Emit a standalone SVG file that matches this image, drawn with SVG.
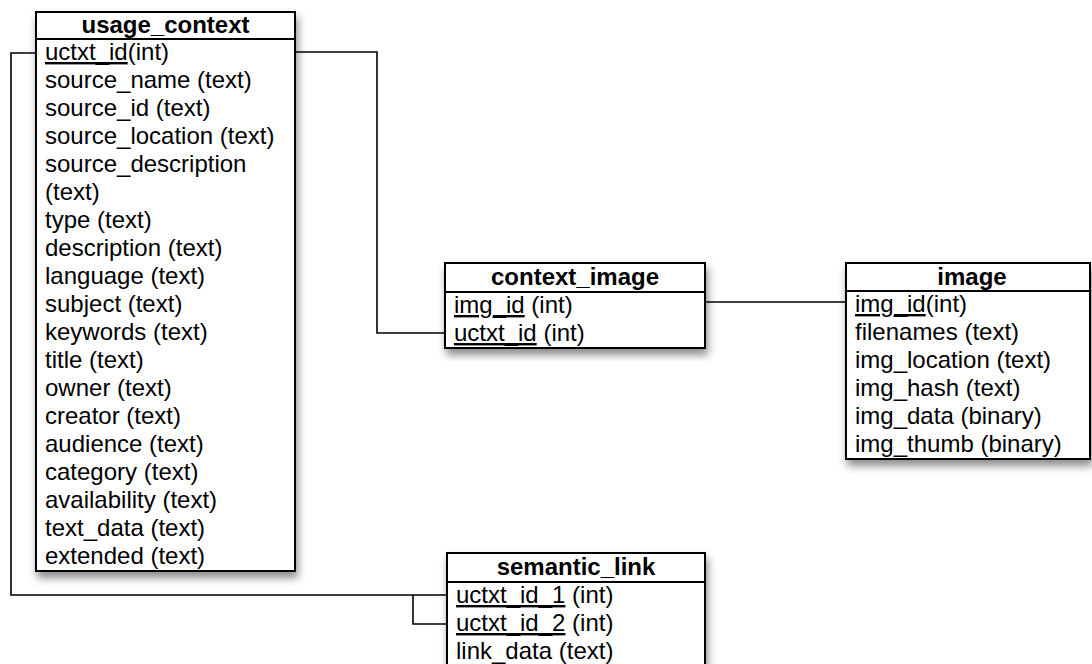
<svg xmlns="http://www.w3.org/2000/svg" width="1092" height="664" viewBox="0 0 1092 664">
<defs>
<filter id="sh" x="-10%" y="-10%" width="125%" height="125%">
<feDropShadow dx="2" dy="6" stdDeviation="4" flood-color="#000" flood-opacity="0.45"/>
</filter>
<style>
.box{fill:#fff;stroke:#000;stroke-width:2}
.div{stroke:#000;stroke-width:2}
.hd{font-family:"Liberation Sans",Arial,sans-serif;font-size:24px;font-weight:bold;text-anchor:middle;fill:#000}
.f{font-family:"Liberation Sans",Arial,sans-serif;font-size:24px;fill:#000}
.u{text-decoration:underline}
.c{fill:none;stroke:#000;stroke-width:1.6}
</style>
</defs>
<rect width="1092" height="664" fill="#fff"/>
<g id="connectors">
<polyline class="c" points="295,52 377,52 377,333 445,333"/>
<line class="c" x1="705" y1="302" x2="846" y2="302"/>
<polyline class="c" points="36,53 11,53 11,595 447,595"/>
<polyline class="c" points="413,595 413,624 447,624"/>
</g>
<g id="usage_context">
<rect class="box" x="36" y="12" width="259" height="559" filter="url(#sh)"/>
<line class="div" x1="36" y1="39" x2="295" y2="39"/>
<text class="hd" x="165.5" y="33">usage_context</text>
<text class="f" x="45" y="60"><tspan class="u">uctxt_id</tspan>(int)</text>
<text class="f" x="45" y="88">source_name (text)</text>
<text class="f" x="45" y="116">source_id (text)</text>
<text class="f" x="45" y="144">source_location (text)</text>
<text class="f" x="45" y="172">source_description</text>
<text class="f" x="45" y="200">(text)</text>
<text class="f" x="45" y="228">type (text)</text>
<text class="f" x="45" y="256">description (text)</text>
<text class="f" x="45" y="284">language (text)</text>
<text class="f" x="45" y="312">subject (text)</text>
<text class="f" x="45" y="340">keywords (text)</text>
<text class="f" x="45" y="368">title (text)</text>
<text class="f" x="45" y="396">owner (text)</text>
<text class="f" x="45" y="424">creator (text)</text>
<text class="f" x="45" y="452">audience (text)</text>
<text class="f" x="45" y="480">category (text)</text>
<text class="f" x="45" y="508">availability (text)</text>
<text class="f" x="45" y="536">text_data (text)</text>
<text class="f" x="45" y="564">extended (text)</text>
</g>
<g id="context_image">
<rect class="box" x="445" y="263" width="260" height="85" filter="url(#sh)"/>
<line class="div" x1="445" y1="292" x2="705" y2="292"/>
<text class="hd" x="575" y="285">context_image</text>
<text class="f" x="454" y="313"><tspan class="u">img_id</tspan> (int)</text>
<text class="f" x="454" y="341"><tspan class="u">uctxt_id</tspan> (int)</text>
</g>
<g id="image">
<rect class="box" x="846" y="263" width="244" height="196" filter="url(#sh)"/>
<line class="div" x1="846" y1="291" x2="1090" y2="291"/>
<text class="hd" x="972" y="285">image</text>
<text class="f" x="855" y="312"><tspan class="u">img_id</tspan>(int)</text>
<text class="f" x="855" y="340">filenames (text)</text>
<text class="f" x="855" y="368">img_location (text)</text>
<text class="f" x="855" y="396">img_hash (text)</text>
<text class="f" x="855" y="424">img_data (binary)</text>
<text class="f" x="855" y="452">img_thumb (binary)</text>
</g>
<g id="semantic_link">
<rect class="box" x="447" y="553" width="258" height="130" filter="url(#sh)"/>
<line class="div" x1="447" y1="582" x2="705" y2="582"/>
<text class="hd" x="576" y="575">semantic_link</text>
<text class="f" x="456" y="603"><tspan class="u">uctxt_id_1</tspan> (int)</text>
<text class="f" x="456" y="631"><tspan class="u">uctxt_id_2</tspan> (int)</text>
<text class="f" x="456" y="659">link_data (text)</text>
</g>
</svg>
